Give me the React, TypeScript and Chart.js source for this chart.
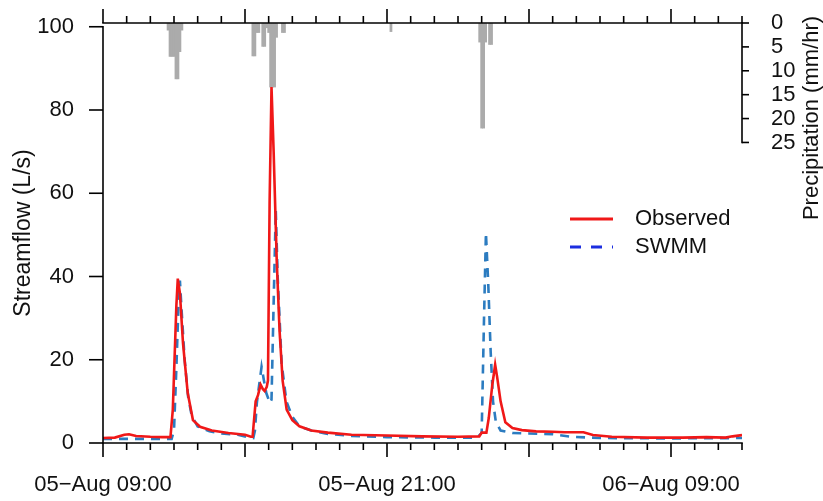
import React, { useEffect, useRef } from "react";
import { Chart, registerables } from "chart.js";

Chart.register(...registerables);

// Time axis values are hours since 05-Aug 00:00
const xMin = 9;
const xMax = 36;
const xLabelHours = [9, 21, 33];

const obsTime = [
  9.0, 9.5, 9.9, 10.1, 10.4, 11.0, 11.5, 11.85, 11.95, 12.1, 12.16, 12.25, 12.38, 12.58, 12.8, 13.1, 13.6,
  14.3, 15.0, 15.25, 15.32, 15.45, 15.55, 15.66, 15.75, 15.83, 15.92, 15.97, 16.04, 16.12, 16.21, 16.34,
  16.46, 16.59, 16.76, 17.0, 17.3, 17.8, 18.5, 19.5, 21.0, 22.5, 24.0, 24.9, 25.0, 25.2, 25.3, 25.45, 25.57,
  25.65, 25.8, 26.0, 26.3, 26.7, 27.3, 28.0, 28.5, 29.0, 29.3, 29.7, 30.5, 32.0, 33.5, 34.5, 35.3, 35.6, 36.0,
];
const obsFlow = [
  1.2, 1.3, 2.0, 2.1, 1.7, 1.5, 1.4, 1.4, 8, 33, 39.5, 36, 24, 12, 5.5, 3.9, 3.0,
  2.4, 2.0, 1.5, 1.5, 10, 11.5, 14, 13, 12.5, 13.5, 15, 58, 85.5, 70, 44,
  27, 15, 8, 5.5, 4.0, 3.0, 2.5, 2.0, 1.8, 1.6, 1.5, 1.6, 2.5, 2.5, 6, 14, 18.8,
  16, 10, 5, 3.6, 3.1, 2.8, 2.7, 2.6, 2.6, 2.6, 1.9, 1.5, 1.3, 1.3, 1.4, 1.3, 1.6, 1.9,
];

const swmmTime = [
  9.0, 11.9, 12.0, 12.1, 12.2, 12.25, 12.32, 12.45, 12.6, 12.75, 13.0, 13.5, 14.0, 14.7, 15.2, 15.35,
  15.42, 15.5, 15.6, 15.7, 15.8, 15.9, 16.05, 16.12, 16.2, 16.3, 16.38, 16.46, 16.55, 16.75, 17.0, 17.3,
  17.8, 18.5, 19.5, 21.0, 23.0, 24.8, 25.0, 25.1, 25.18, 25.28, 25.38, 25.48, 25.6, 25.8, 26.3, 27.0,
  28.0, 28.8, 30.0, 33.0, 36.0,
];
const swmmFlow = [
  1.0, 1.0, 3, 18, 35, 39, 32, 20, 11, 6.5, 4.0, 2.8, 2.3, 2.0, 1.3, 1.2,
  3, 9.6, 14, 18.3, 15, 12, 9.6, 10.4, 31, 56, 40, 30, 19, 10, 6.3, 4,
  3, 2.2, 1.7, 1.4, 1.3, 1.3, 2.4, 30, 50.5, 38, 22, 10, 5, 3, 2.4, 2.3,
  2.1, 1.5, 1.2, 1.1, 1.2,
];

const rainTime = [
  11.75, 11.833, 11.917, 12.0, 12.083, 12.167, 12.25, 12.333,
  15.333, 15.417, 15.5, 15.583, 15.75, 15.833, 15.917, 16.0, 16.083, 16.167, 16.25, 16.333, 16.583, 16.667,
  21.167,
  24.917, 25.0, 25.083, 25.167, 25.333, 25.417,
];
const rainRate = [
  1.5, 7, 7, 7, 11.7, 11.7, 6, 1.5,
  6.9, 6.9, 2, 2, 4.9, 4.9, 1, 2, 13.4, 13.4, 13.4, 3, 2, 2,
  1.8,
  4, 22, 22, 4, 4.5, 4.5,
];

const flowTicks = [0, 20, 40, 60, 80, 100];
const rainTicks = [0, 5, 10, 15, 20, 25];

const FONT = "'Liberation Sans', Arial, Helvetica, sans-serif";
const FS = 22;

function fmtTime(v: number): string {
  const day = v < 24 ? "05" : "06";
  const h = ((v % 24) + 24) % 24;
  return `${day}\u2212Aug ${String(h).padStart(2, "0")}:00`;
}

const hiddenGrid = {
  display: true,
  drawOnChartArea: false,
  drawTicks: true,
  tickLength: 26,
  color: "rgba(0,0,0,0)",
};

const axesPlugin = {
  id: "customAxes",
  afterDraw(chart: any) {
    const { ctx, chartArea } = chart;
    const xs = chart.scales.x;
    const yl = chart.scales.y;
    const yr = chart.scales.yP;
    ctx.save();
    ctx.strokeStyle = "#000";
    ctx.lineWidth = 1.6;
    const line = (x1: number, y1: number, x2: number, y2: number) => {
      ctx.beginPath();
      ctx.moveTo(x1, y1);
      ctx.lineTo(x2, y2);
      ctx.stroke();
    };
    const x0 = xs.getPixelForValue(xMin);
    const x1 = xs.getPixelForValue(xMax);
    const top = chartArea.top;
    const bottom = chartArea.bottom;
    // bottom & top axes
    ctx.lineCap = "square";
    line(x0, bottom, x1, bottom);
    line(x0, top, x1, top);
    ctx.lineCap = "butt";
    for (let h = xMin; h <= xMax; h++) {
      const px = xs.getPixelForValue(h);
      const major = (h - 3) % 6 === 0;
      const len = major ? 14 : 7;
      line(px, bottom, px, bottom + len);
      line(px, top, px, top - len);
    }
    // left axis
    ctx.lineCap = "square";
    const yTop = yl.getPixelForValue(flowTicks[flowTicks.length - 1]);
    const yBot = yl.getPixelForValue(flowTicks[0]);
    line(chartArea.left, yTop, chartArea.left, yBot);
    ctx.lineCap = "butt";
    for (const v of flowTicks) {
      const py = yl.getPixelForValue(v);
      line(chartArea.left - 14, py, chartArea.left, py);
    }
    // right axis
    ctx.lineCap = "square";
    const r0 = yr.getPixelForValue(rainTicks[0]);
    const r1 = yr.getPixelForValue(rainTicks[rainTicks.length - 1]);
    line(chartArea.right, r0, chartArea.right, r1);
    ctx.lineCap = "butt";
    for (const v of rainTicks) {
      const py = yr.getPixelForValue(v);
      line(chartArea.right, py, chartArea.right + 7, py);
    }
    // right axis title
    ctx.fillStyle = "#111";
    ctx.font = `${FS}px ${FONT}`;
    ctx.textAlign = "center";
    ctx.textBaseline = "middle";
    ctx.save();
    ctx.translate(chartArea.right + 70, 118);
    ctx.rotate(-Math.PI / 2);
    ctx.fillText("Precipitation (mm/hr)", 0, 0);
    ctx.restore();
    // legend
    const lx = 570;
    const ly1 = 219;
    const ly2 = 247;
    ctx.lineWidth = 3;
    ctx.strokeStyle = "#f01818";
    line(lx, ly1, lx + 43, ly1);
    ctx.strokeStyle = "#1c2ee0";
    ctx.setLineDash([11, 10]);
    line(lx, ly2, lx + 43, ly2);
    ctx.setLineDash([]);
    ctx.fillStyle = "#111";
    ctx.textAlign = "left";
    ctx.fillText("Observed", lx + 65, ly1);
    ctx.fillText("SWMM", lx + 65, ly2);
    ctx.restore();
  },
};

export default function App() {
  const ref = useRef<HTMLCanvasElement | null>(null);
  useEffect(() => {
    if (!ref.current) return;
    const chart = new Chart(ref.current, {
      type: "line",
      data: {
        datasets: [
          {
            type: "line",
            label: "Observed",
            data: obsTime.map((t, i) => ({ x: t, y: obsFlow[i] })),
            borderColor: "#f01818",
            borderWidth: 2.6,
            pointRadius: 0,
            tension: 0,
            yAxisID: "y",
            order: 0,
          },
          {
            type: "line",
            label: "SWMM",
            data: swmmTime.map((t, i) => ({ x: t, y: swmmFlow[i] })),
            borderColor: "#2c7cc0",
            borderWidth: 2.6,
            borderDash: [9, 7],
            pointRadius: 0,
            tension: 0,
            yAxisID: "y",
            order: 1,
          },
          {
            type: "bar",
            label: "Precipitation",
            data: rainTime.map((t, i) => ({ x: t, y: rainRate[i] })),
            backgroundColor: "#ababab",
            borderWidth: 0,
            barThickness: 2.1,
            yAxisID: "yP",
            order: 2,
          } as any,
        ],
      },
      options: {
        animation: false,
        responsive: false,
        maintainAspectRatio: false,
        layout: { padding: { top: 23, left: 0, right: 0, bottom: 0 } },
        plugins: { legend: { display: false }, tooltip: { enabled: false } },
        scales: {
          x: {
            type: "linear",
            position: "bottom",
            min: xMin,
            max: xMax,
            offset: false,
            grid: hiddenGrid,
            border: { display: false },
            afterBuildTicks: (s: any) => {
              s.ticks = xLabelHours.map((v) => ({ value: v }));
            },
            afterFit: (s: any) => {
              s.height = 58;
            },
            ticks: {
              autoSkip: false,
              maxRotation: 0,
              padding: 3,
              color: "#111",
              font: { family: FONT, size: FS },
              callback: (v: any) => fmtTime(Number(v)),
            },
          },
          y: {
            type: "linear",
            position: "left",
            min: 0,
            max: 100.9,
            grid: hiddenGrid,
            border: { display: false },
            afterBuildTicks: (s: any) => {
              s.ticks = flowTicks.map((v) => ({ value: v }));
            },
            afterFit: (s: any) => {
              s.width = 103;
            },
            ticks: {
              padding: 3,
              color: "#111",
              font: { family: FONT, size: FS },
            },
            title: {
              display: true,
              text: "Streamflow (L/s)",
              color: "#111",
              font: { family: FONT, size: 23 },
              padding: { top: 10, bottom: 0 },
            },
          },
          yP: {
            type: "linear",
            position: "right",
            reverse: true,
            min: 0,
            max: 87.9,
            grid: hiddenGrid,
            border: { display: false },
            afterBuildTicks: (s: any) => {
              s.ticks = rainTicks.map((v) => ({ value: v }));
            },
            afterFit: (s: any) => {
              s.width = 81;
            },
            ticks: {
              padding: 3,
              color: "#111",
              font: { family: FONT, size: FS },
            },
          },
        },
      },
      plugins: [axesPlugin],
    } as any);
    return () => chart.destroy();
  }, []);
  return (
    <div style={{ position: "fixed", left: 0, top: 0, width: 823, height: 501, background: "#fff" }}>
      <canvas ref={ref} width={823} height={501} style={{ display: "block" }} />
    </div>
  );
}
